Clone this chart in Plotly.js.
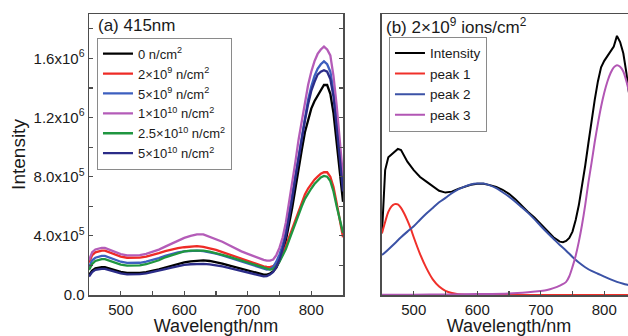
<!DOCTYPE html>
<html><head><meta charset="utf-8">
<script src="https://cdn.plot.ly/plotly-3.0.1.min.js"></script>
<style>html,body{margin:0;padding:0;overflow:hidden;background:#fff}#chart{width:650px;height:336px}</style>
</head><body><div id="chart"></div>
<script>
// ---------- Panel (a): 415 nm excitation ----------
const wavelengthA = [450,455,460,465,470,475,480,
  490,500,510,520,530,540,550,560,570,580,590,600,610,620,630,640,650,660,670,680,690,700,710,720,
  725,730,735,740,745,750,755,760,765,770,775,780,785,790,795,800,805,810,815,820,825,830,835,840,845,850];
const dose0 = [1.35e5,1.65e5,1.8e5,1.86e5,1.88e5,1.88e5,1.82e5,
  1.68e5,1.57e5,1.5e5,1.48e5,1.5e5,1.55e5,1.63e5,1.74e5,1.86e5,1.98e5,2.1e5,2.2e5,2.28e5,2.33e5,2.34e5,2.3e5,2.22e5,2.12e5,2.0e5,1.88e5,1.76e5,1.64e5,1.52e5,1.42e5,
  1.38e5,1.38e5,1.45e5,1.6e5,1.85e5,2.3e5,2.9e5,3.7e5,4.7e5,5.9e5,7.2e5,8.6e5,9.8e5,1.10e6,1.19e6,1.26e6,1.31e6,1.35e6,1.39e6,1.42e6,1.42e6,1.36e6,1.23e6,1.04e6,8.3e5,6.3e5];
const dose2e9 = [2.2e5,2.7e5,2.88e5,2.96e5,3.0e5,3.0e5,2.92e5,
  2.73e5,2.6e5,2.52e5,2.5e5,2.53e5,2.6e5,2.7e5,2.83e5,2.97e5,3.08e5,3.17e5,3.23e5,3.28e5,3.3e5,3.25e5,3.17e5,3.05e5,2.9e5,2.75e5,2.6e5,2.45e5,2.28e5,2.13e5,2.0e5,
  1.94e5,1.9e5,1.88e5,1.95e5,2.1e5,2.4e5,2.8e5,3.3e5,3.9e5,4.5e5,5.1e5,5.7e5,6.3e5,6.8e5,7.2e5,7.5e5,7.8e5,8.0e5,8.2e5,8.3e5,8.3e5,8.0e5,7.3e5,6.2e5,5.0e5,3.9e5];
const dose5e9 = [1.9e5,2.35e5,2.52e5,2.6e5,2.64e5,2.64e5,2.56e5,
  2.38e5,2.25e5,2.17e5,2.15e5,2.18e5,2.25e5,2.36e5,2.5e5,2.65e5,2.78e5,2.88e5,2.95e5,3.0e5,3.0e5,2.97e5,2.9e5,2.8e5,2.67e5,2.53e5,2.38e5,2.25e5,2.1e5,1.95e5,1.82e5,
  1.76e5,1.72e5,1.75e5,1.9e5,2.25e5,2.75e5,3.4e5,4.3e5,5.5e5,6.8e5,8.2e5,9.6e5,1.09e6,1.21e6,1.32e6,1.41e6,1.48e6,1.53e6,1.56e6,1.58e6,1.56e6,1.51e6,1.38e6,1.18e6,9.6e5,7.5e5];
const dose1e10 = [2.35e5,2.9e5,3.08e5,3.15e5,3.18e5,3.18e5,3.1e5,
  2.9e5,2.76e5,2.68e5,2.67e5,2.7e5,2.78e5,2.9e5,3.07e5,3.27e5,3.48e5,3.68e5,3.86e5,4.0e5,4.1e5,4.1e5,3.95e5,3.8e5,3.6e5,3.38e5,3.15e5,2.95e5,2.78e5,2.6e5,2.45e5,
  2.38e5,2.32e5,2.32e5,2.4e5,2.7e5,3.2e5,3.9e5,4.9e5,6.2e5,7.6e5,9.0e5,1.05e6,1.18e6,1.30e6,1.42e6,1.51e6,1.58e6,1.63e6,1.66e6,1.68e6,1.66e6,1.62e6,1.48e6,1.28e6,1.04e6,8.0e5];
const dose25e10 = [1.7e5,2.1e5,2.3e5,2.38e5,2.42e5,2.42e5,2.35e5,
  2.18e5,2.05e5,1.98e5,1.97e5,2.0e5,2.08e5,2.2e5,2.35e5,2.55e5,2.7e5,2.85e5,2.95e5,3.0e5,3.02e5,3.0e5,2.94e5,2.85e5,2.72e5,2.6e5,2.47e5,2.35e5,2.22e5,2.08e5,1.92e5,
  1.85e5,1.78e5,1.72e5,1.75e5,1.95e5,2.25e5,2.65e5,3.1e5,3.7e5,4.3e5,4.9e5,5.5e5,6.0e5,6.5e5,6.9e5,7.2e5,7.5e5,7.75e5,7.95e5,8.05e5,8.0e5,7.7e5,7.0e5,6.0e5,5.0e5,4.2e5];
const dose5e10 = [1.25e5,1.55e5,1.7e5,1.75e5,1.77e5,1.76e5,1.7e5,
  1.56e5,1.46e5,1.4e5,1.39e5,1.41e5,1.46e5,1.54e5,1.64e5,1.75e5,1.85e5,1.95e5,2.03e5,2.08e5,2.1e5,2.1e5,2.07e5,2.01e5,1.93e5,1.83e5,1.73e5,1.62e5,1.51e5,1.4e5,1.3e5,
  1.26e5,1.28e5,1.38e5,1.55e5,1.9e5,2.4e5,3.1e5,4.0e5,5.2e5,6.5e5,7.9e5,9.3e5,1.06e6,1.18e6,1.29e6,1.38e6,1.44e6,1.49e6,1.51e6,1.52e6,1.51e6,1.46e6,1.34e6,1.15e6,9.2e5,7.0e5];
const legendA = ["0 n/cm<sup>2</sup>","2×10<sup>9</sup> n/cm<sup>2</sup>","5×10<sup>9</sup> n/cm<sup>2</sup>",
  "1×10<sup>10</sup> n/cm<sup>2</sup>","2.5×10<sup>10</sup> n/cm<sup>2</sup>","5×10<sup>10</sup> n/cm<sup>2</sup>"];
const colorsA = ["#000000","#ee2b26","#3d5fbf","#b45cb8","#1f9640","#2b2c88"];

// ---------- Panel (b): 2e9 ions/cm2 with peak fit ----------
const wavelengthB = [450,455,460,465,470,475,480,485,490,500,510,520,530,540,550,560,570,580,590,600,610,620,630,640,650,660,670,680,690,700,710,720,730,
  735,740,745,750,755,760,765,770,775,780,785,790,795,800,805,810,815,820,825,830,835,840,845,850];
const intensityB = [1.98e5,4.0e5,4.41e5,4.5e5,4.59e5,4.68e5,4.64e5,4.46e5,4.27e5,4.0e5,3.78e5,3.63e5,3.47e5,3.34e5,3.28e5,3.31e5,3.4e5,3.47e5,3.53e5,3.56e5,3.56e5,3.52e5,3.46e5,3.37e5,3.24e5,3.07e5,2.86e5,2.66e5,2.48e5,2.28e5,2.07e5,1.85e5,1.71e5,
  1.69e5,1.73e5,1.83e5,2.03e5,2.4e5,2.88e5,3.47e5,4.14e5,4.86e5,5.58e5,6.25e5,6.84e5,7.29e5,7.5e5,7.65e5,7.79e5,7.96e5,8.3e5,8.1e5,7.74e5,7.1e5,6.3e5,5.2e5,4.1e5];
const wavelengthP1 = [450,455,460,465,470,475,480,485,490,495,500,510,520,530,540,550,560,570,580,600,650,700,750,800,850];
const peak1 = [1.98e5,2.34e5,2.66e5,2.84e5,2.91e5,2.9e5,2.79e5,2.61e5,2.39e5,2.14e5,1.85e5,1.31e5,0.86e5,0.5e5,0.27e5,0.135e5,0.063e5,0.027e5,0.009e5,0,0,0,0,0,0];
const wavelengthP2 = [450,460,470,480,490,500,510,520,530,540,550,560,570,580,590,600,610,620,630,640,650,660,670,680,690,700,710,720,730,740,750,760,770,780,790,800,810,820,830,840,850];
const peak2 = [1.28e5,1.46e5,1.65e5,1.85e5,2.03e5,2.2e5,2.41e5,2.61e5,2.79e5,2.97e5,3.11e5,3.26e5,3.38e5,3.47e5,3.54e5,3.57e5,3.57e5,3.51e5,3.42e5,3.29e5,3.15e5,2.99e5,2.81e5,2.63e5,2.43e5,2.21e5,2.0e5,1.8e5,1.6e5,1.42e5,1.22e5,1.04e5,0.89e5,0.77e5,0.68e5,0.59e5,0.5e5,0.42e5,0.36e5,0.31e5,0.26e5];
const wavelengthP3 = [450,500,550,600,650,680,700,710,720,730,740,745,750,755,760,765,770,775,780,785,790,795,800,805,810,815,820,825,830,835,840,845,850];
const peak3 = [0.01e5,0.01e5,0.02e5,0.03e5,0.05e5,0.09e5,0.13e5,0.16e5,0.22e5,0.3e5,0.42e5,0.6e5,0.9e5,1.26e5,1.71e5,2.25e5,2.88e5,3.6e5,4.23e5,4.9e5,5.49e5,6.03e5,6.48e5,6.84e5,7.11e5,7.29e5,7.36e5,7.31e5,7.16e5,6.84e5,6.39e5,5.76e5,5.04e5];
const namesB = ["Intensity","peak 1","peak 2","peak 3"];
const colorsB = ["#000000","#f0302a","#3b52a6","#b256b4"];

const yTickVals = [0,4e5,8e5,1.2e6,1.6e6];
const yTickText = ["0.0","4.0x10<sup>5</sup>","8.0x10<sup>5</sup>","1.2x10<sup>6</sup>","1.6x10<sup>6</sup>"];
const xTickVals = [500,600,700,800];

const seriesA = [dose0,dose2e9,dose5e9,dose1e10,dose25e10,dose5e10];
const traces = seriesA.map((ys,i)=>({
  x: wavelengthA, y: ys, type:'scatter', mode:'lines', name: legendA[i],
  line:{color:colorsA[i], width:2.3}, xaxis:'x', yaxis:'y', legend:'legend'
}));
const seriesB = [[wavelengthB,intensityB],[wavelengthP1,peak1],[wavelengthP2,peak2],[wavelengthP3,peak3]];
seriesB.forEach((s,i)=>traces.push({
  x: s[0], y: s[1], type:'scatter', mode:'lines', name: namesB[i],
  line:{color:colorsB[i], width:2, shape: i===0 ? 'linear' : 'spline', smoothing: 0.8},
  xaxis:'x2', yaxis:'y2', legend:'legend2'
}));

const FONT = 'Liberation Sans, Arial, sans-serif';
const AX = '#4d4d4d';
const xcommon = {range:[450,850], tickmode:'array', tickvals:xTickVals, ticks:'inside', ticklen:4, tickwidth:1.2,
  tickcolor:AX, showline:true, linecolor:AX, linewidth:1.5, mirror:true, showgrid:false, zeroline:false,
  minor:{dtick:50, tick0:0, ticks:'inside', ticklen:4, tickcolor:AX, tickwidth:1.2, showgrid:false},
  tickfont:{family:FONT, size:15, color:'#1a1a1a'},
  title:{text:'Wavelength/nm', font:{family:FONT, size:18, color:'#1a1a1a'}, standoff:6}};

const layout = {
  width:650, height:336, margin:{l:89, r:14, t:14, b:41},
  paper_bgcolor:'#ffffff', plot_bgcolor:'#ffffff', showlegend:true,
  font:{family:FONT, color:'#1a1a1a'},
  xaxis: Object.assign({}, xcommon, {domain:[0,0.4644], anchor:'y'}),
  xaxis2: Object.assign({}, xcommon, {domain:[0.5356,1], anchor:'y2'}),
  yaxis: {domain:[0,1], anchor:'x', range:[0,1.9e6], tickmode:'array', tickvals:yTickVals, ticktext:yTickText,
    ticks:'inside', ticklen:4, tickwidth:1.2, tickcolor:AX, showline:true, linecolor:AX, linewidth:1.5, mirror:'ticks',
    minor:{dtick:2e5, tick0:0, ticks:'inside', ticklen:4, tickcolor:AX, tickwidth:1.2, showgrid:false},
    showgrid:false, zeroline:false, tickfont:{family:FONT, size:15, color:'#1a1a1a'},
    title:{text:'Intensity', font:{family:FONT, size:19, color:'#1a1a1a'}, standoff:3}},
  yaxis2: {domain:[0,1], anchor:'x2', range:[0,9e5], side:'right', showticklabels:false, ticks:'',
    showline:true, linecolor:AX, linewidth:1.5, mirror:true, showgrid:false, zeroline:false},
  legend: {x:0.0146, y:0.9157, xanchor:'left', yanchor:'top', bgcolor:'#ffffff', bordercolor:'#8a8a8a', borderwidth:1,
    font:{family:FONT, size:13, color:'#1a1a1a'}, tracegroupgap:0},
  legend2: {x:0.5484, y:0.919, xanchor:'left', yanchor:'top', bgcolor:'#ffffff', bordercolor:'#8a8a8a', borderwidth:1,
    font:{family:FONT, size:13.5, color:'#1a1a1a'}, tracegroupgap:0},
  annotations:[
    {xref:'paper', yref:'paper', x:0.0128, y:0.959, xanchor:'left', yanchor:'middle', showarrow:false,
     text:'(a) 415nm', font:{family:FONT, size:17, color:'#1a1a1a'}},
    {xref:'paper', yref:'paper', x:0.539, y:0.959, xanchor:'left', yanchor:'middle', showarrow:false,
     text:'(b) 2×10<sup>9</sup> ions/cm<sup>2</sup>', font:{family:FONT, size:17, color:'#1a1a1a'}}
  ]
};
Plotly.newPlot('chart', traces, layout, {staticPlot:true, displayModeBar:false});
</script></body></html>
